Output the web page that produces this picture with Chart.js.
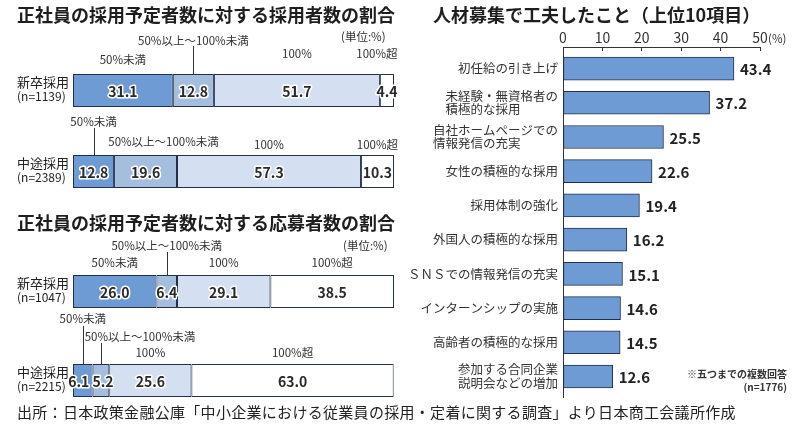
<!DOCTYPE html>
<html lang="ja">
<head>
<meta charset="utf-8">
<title>正社員の採用状況と人材募集の工夫</title>
<script src="https://cdn.jsdelivr.net/npm/chart.js@4.4.1/dist/chart.umd.min.js"></script>
<style>
  body { margin: 0; background: #fff; }
  #page {
    position: relative; width: 800px; height: 427px; overflow: hidden;
    font-family: "Noto Sans CJK JP", "Noto Sans", sans-serif; color: #222;
  }
  .layer { position: absolute; left: 0; top: 0; width: 800px; height: 427px; }
  .txt { position: absolute; white-space: nowrap; }
  .title { font-size: 18px; font-weight: 700; line-height: 22px; color: #1e1e1e; }
  .unit { font-size: 11.5px; line-height: 14px; color: #333; }
  .source { font-size: 15px; line-height: 20px; color: #222; letter-spacing: 0.3px; }
  .note { font-size: 10px; line-height: 13px; font-weight: 700; color: #333; text-align: right; }
</style>
</head>
<body>
<div id="page">
  <div class="layer"><canvas id="hireChart"></canvas></div>
  <div class="layer"><canvas id="applyChart"></canvas></div>
  <div class="layer"><canvas id="effortChart"></canvas></div>

  <div class="txt title" style="left:17px; top:3px;">正社員の採用予定者数に対する採用者数の割合</div>
  <div class="txt title" style="left:17px; top:211px;">正社員の採用予定者数に対する応募者数の割合</div>
  <div class="txt title" style="left:433px; top:3px;">人材募集で工夫したこと（上位10項目）</div>
  <div class="txt unit" style="left:341px; top:29px;">(単位:%)</div>
  <div class="txt unit" style="left:343px; top:238px;">(単位:%)</div>
  <div class="txt unit" style="left:768px; top:31px;">(%)</div>
  <div class="txt note" style="right:13px; top:367px;">※五つまでの複数回答<br>(n=1776)</div>
  <div class="txt source" style="left:17px; top:402px;">出所：日本政策金融公庫「中小企業における従業員の採用・定着に関する調査」より日本商工会議所作成</div>
</div>

<script>
// ---- data ----
const ratioSeries = ['50%未満', '50%以上～100%未満', '100%', '100%超'];

const hireCats = ['新卒採用', '中途採用'];
const hireCounts = ['(n=1139)', '(n=2389)'];
const hireUnder50 = [31.1, 12.8];
const hire50to100 = [12.8, 19.6];
const hire100 = [51.7, 57.3];
const hireOver100 = [4.4, 10.3];

const applyCats = ['新卒採用', '中途採用'];
const applyCounts = ['(n=1047)', '(n=2215)'];
const applyUnder50 = [26.0, 6.1];
const apply50to100 = [6.4, 5.2];
const apply100 = [29.1, 25.6];
const applyOver100 = [38.5, 63.0];

const effortItems = [
  '初任給の引き上げ',
  ['未経験・無資格者の', '積極的な採用'],
  ['自社ホームページでの', '情報発信の充実'],
  '女性の積極的な採用',
  '採用体制の強化',
  '外国人の積極的な採用',
  'ＳＮＳでの情報発信の充実',
  'インターンシップの実施',
  '高齢者の積極的な採用',
  ['参加する合同企業', '説明会などの増加']
];
const effortValues = [43.4, 37.2, 25.5, 22.6, 19.4, 16.2, 15.1, 14.6, 14.5, 12.6];

// ---- styles ----
const FONT = "'Noto Sans CJK JP', 'Noto Sans', sans-serif";
const segColors = ['#6f9bd5', '#a5bede', '#d4e0f1', '#ffffff'];
const edgeColor = '#22304a';

// where each series name sits relative to its segment (dx from centre, dy from bar top)
const hireNotes = [
  { ds: 0, cat: 0, dx: 0, dy: -14 },
  { ds: 1, cat: 0, dx: 0, dy: -33, leader: -28 },
  { ds: 2, cat: 0, dx: 0, dy: -20 },
  { ds: 3, cat: 0, dx: -10, dy: -20 },
  { ds: 0, cat: 1, dx: 0, dy: -33, leader: -27 },
  { ds: 1, cat: 1, dx: 18, dy: -13 },
  { ds: 2, cat: 1, dx: 0, dy: -10 },
  { ds: 3, cat: 1, dx: 0, dy: -10 }
];
const applyNotes = [
  { ds: 0, cat: 0, dx: 0, dy: -12 },
  { ds: 1, cat: 0, dx: 0, dy: -29, leader: -23 },
  { ds: 2, cat: 0, dx: 0, dy: -12 },
  { ds: 3, cat: 0, dx: 0, dy: -12 },
  { ds: 0, cat: 1, dx: 0, dy: -45, leader: -38 },
  { ds: 1, cat: 1, dx: 39, dy: -27, leader: -21 },
  { ds: 2, cat: 1, dx: 0, dy: -11 },
  { ds: 3, cat: 1, dx: 0, dy: -11 }
];
// small nudges for value labels in very narrow segments
const applyValueNudge = [{ ds: 0, cat: 1, dx: -4 }, { ds: 1, cat: 1, dx: 2 }];

// labels for the stacked ratio bars
const ratioLabels = {
  id: 'ratioLabels',
  afterDatasetsDraw(chart, args, opts) {
    const ctx = chart.ctx;
    ctx.save();
    ctx.textBaseline = 'middle';

    // values inside each segment: halos first, then the text, so close
    // neighbours do not wipe each other out
    ctx.font = `bold 14px ${FONT}`;
    ctx.textAlign = 'center';
    ctx.lineJoin = 'round';
    const vals = [];
    chart.data.datasets.forEach((ds, di) => {
      chart.getDatasetMeta(di).data.forEach((bar, i) => {
        const nudge = (opts.nudges || []).find(n => n.ds === di && n.cat === i);
        vals.push({
          t: ds.data[i].toFixed(1),
          x: (bar.x + bar.base) / 2 + (nudge ? nudge.dx : 0),
          y: bar.y + 1
        });
      });
    });
    ctx.lineWidth = 3;
    ctx.strokeStyle = '#fff';
    vals.forEach(v => ctx.strokeText(v.t, v.x, v.y));
    ctx.fillStyle = '#2a2a2a';
    vals.forEach(v => ctx.fillText(v.t, v.x, v.y));

    // series names above the bars, some with a leader line
    ctx.font = `11.5px ${FONT}`;
    ctx.fillStyle = '#333';
    ctx.strokeStyle = '#333';
    ctx.lineWidth = 1;
    opts.notes.forEach(n => {
      const bar = chart.getDatasetMeta(n.ds).data[n.cat];
      const cx = (bar.x + bar.base) / 2;
      const top = bar.y - bar.height / 2;
      ctx.fillText(chart.data.datasets[n.ds].label, cx + n.dx, top + n.dy);
      if (n.leader !== undefined) {
        const lx = Math.round(cx) + 0.5;
        ctx.beginPath();
        ctx.moveTo(lx, top + n.leader);
        ctx.lineTo(lx, top);
        ctx.stroke();
      }
    });

    // category names at the left
    const yScale = chart.scales.y;
    ctx.textAlign = 'left';
    ctx.fillStyle = '#222';
    chart.data.labels.forEach((lab, i) => {
      const y = yScale.getPixelForValue(i);
      ctx.font = `13px ${FONT}`;
      ctx.fillText(lab, 17, y - 8);
      ctx.font = `12px ${FONT}`;
      ctx.fillText(opts.counts[i], 17, y + 6);
    });
    ctx.restore();
  }
};

function ratioChart(id, cats, counts, series, notes, nudges, padding, barPct) {
  return new Chart(document.getElementById(id), {
    type: 'bar',
    data: {
      labels: cats,
      datasets: series.map((vals, k) => ({
        label: ratioSeries[k],
        data: vals,
        backgroundColor: segColors[k],
        borderColor: edgeColor,
        borderWidth: 1,
        borderSkipped: false,
        barPercentage: barPct,
        categoryPercentage: 1
      }))
    },
    options: {
      indexAxis: 'y',
      responsive: true,
      maintainAspectRatio: false,
      animation: false,
      layout: { padding: padding },
      scales: {
        x: { stacked: true, min: 0, max: 100, display: false },
        y: { stacked: true, display: false }
      },
      plugins: {
        legend: { display: false },
        tooltip: { enabled: false },
        ratioLabels: { notes: notes, counts: counts, nudges: nudges }
      }
    },
    plugins: [ratioLabels]
  });
}

ratioChart('hireChart', hireCats, hireCounts,
  [hireUnder50, hire50to100, hire100, hireOver100], hireNotes, [],
  { left: 73, right: 406, top: 50, bottom: 215 }, 0.407);

ratioChart('applyChart', applyCats, applyCounts,
  [applyUnder50, apply50to100, apply100, applyOver100], applyNotes, applyValueNudge,
  { left: 73, right: 406, top: 247, bottom: 2 }, 0.371);

// category names and values for the ranking chart
const effortLabels = {
  id: 'effortLabels',
  afterDatasetsDraw(chart) {
    const ctx = chart.ctx;
    const area = chart.chartArea;
    ctx.save();
    ctx.textBaseline = 'middle';
    ctx.textAlign = 'left';
    chart.getDatasetMeta(0).data.forEach((bar, i) => {
      ctx.font = `bold 15px ${FONT}`;
      ctx.fillStyle = '#222';
      ctx.fillText(effortValues[i].toFixed(1), bar.x + 6, bar.y + 1);

      const lines = [].concat(chart.data.labels[i]);
      ctx.font = `12.5px ${FONT}`;
      ctx.fillStyle = '#333';
      const w = Math.max(...lines.map(l => ctx.measureText(l).width));
      const x0 = area.left - 5 - w;
      const lh = 13.5;
      lines.forEach((l, k) => {
        ctx.fillText(l, x0, bar.y + (k - (lines.length - 1) / 2) * lh);
      });
    });
    ctx.restore();
  }
};

// the item axis is linear (item index) so the top axis line can sit a little
// above the first bar, as in the original
new Chart(document.getElementById('effortChart'), {
  type: 'bar',
  data: {
    labels: effortItems,
    datasets: [{
      data: effortValues.map((v, i) => ({ x: v, y: i })),
      backgroundColor: segColors[0],
      borderColor: edgeColor,
      borderWidth: 1,
      borderSkipped: false,
      barThickness: 23
    }]
  },
  options: {
    indexAxis: 'y',
    responsive: true,
    maintainAspectRatio: false,
    animation: false,
    layout: { padding: { left: 555, right: 40, top: 17, bottom: 30 } },
    scales: {
      x: {
        position: 'top',
        min: 0,
        max: 50,
        ticks: { stepSize: 10, color: '#333', font: { size: 14, family: FONT }, padding: 5 },
        grid: { drawOnChartArea: false, tickLength: -4, color: '#333', tickColor: '#333' },
        border: { color: '#333', width: 1 },
        afterFit(scale) { scale.height = 30; }
      },
      y: {
        type: 'linear',
        position: 'left',
        reverse: true,
        offset: false,
        bounds: 'data',
        min: -0.63,
        max: 9.6,
        ticks: { display: false, stepSize: 1, includeBounds: false },
        grid: { drawOnChartArea: false, drawTicks: false, color: '#333' },
        border: { display: true, color: '#333', width: 1 },
        afterFit(scale) { scale.width = 8; }
      }
    },
    plugins: {
      legend: { display: false },
      tooltip: { enabled: false }
    }
  },
  plugins: [effortLabels]
});
</script>
</body>
</html>
